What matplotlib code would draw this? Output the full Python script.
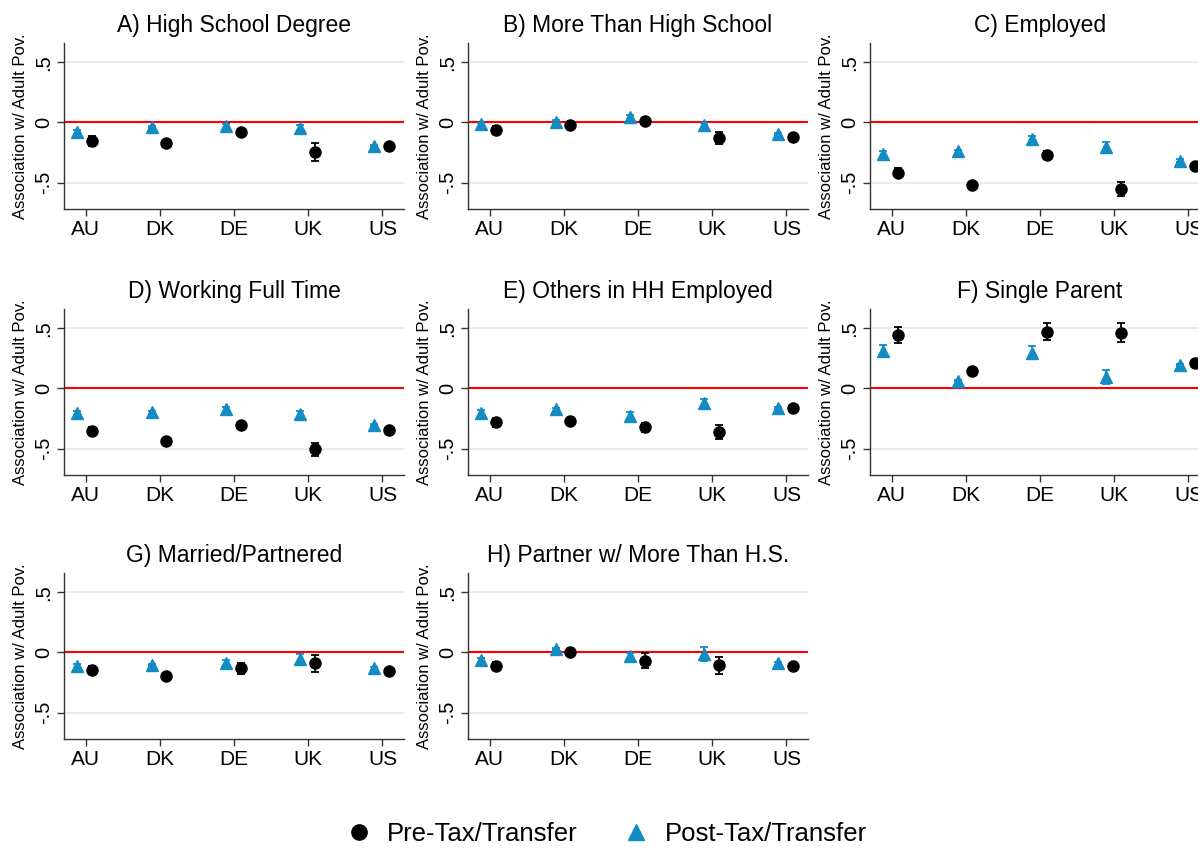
import numpy as np
import matplotlib
matplotlib.use('Agg')
import matplotlib.pyplot as plt

plt.rcParams['font.family'] = ['Liberation Sans', 'DejaVu Sans']

countries = ['AU', 'DK', 'DE', 'UK', 'US']
titles = ['A) High School Degree', 'B) More Than High School', 'C) Employed',
          'D) Working Full Time', 'E) Others in HH Employed', 'F) Single Parent',
          'G) Married/Partnered', 'H) Partner w/ More Than H.S.']

# pre-tax/transfer (circles) estimates and half-width of CI
pre = [[-0.153, -0.175, -0.083, -0.244, -0.197],
       [-0.064, -0.025, 0.008, -0.128, -0.122],
       [-0.417, -0.522, -0.267, -0.556, -0.364],
       [-0.353, -0.439, -0.306, -0.508, -0.350],
       [-0.283, -0.275, -0.325, -0.361, -0.167],
       [0.444, 0.147, 0.472, 0.464, 0.208],
       [-0.147, -0.200, -0.133, -0.089, -0.158],
       [-0.111, 0.003, -0.069, -0.106, -0.111]]
pre_err = [[0.040, 0.012, 0.030, 0.075, 0.012],
           [0.030, 0.010, 0.030, 0.050, 0.012],
           [0.035, 0.015, 0.030, 0.060, 0.015],
           [0.030, 0.012, 0.030, 0.050, 0.012],
           [0.040, 0.012, 0.035, 0.060, 0.012],
           [0.070, 0.015, 0.070, 0.080, 0.015],
           [0.035, 0.012, 0.045, 0.070, 0.012],
           [0.035, 0.012, 0.060, 0.070, 0.012]]

# post-tax/transfer (triangles)
post = [[-0.083, -0.036, -0.030, -0.050, -0.197],
        [-0.017, 0.006, 0.042, -0.022, -0.097],
        [-0.264, -0.239, -0.142, -0.203, -0.319],
        [-0.203, -0.200, -0.175, -0.217, -0.306],
        [-0.208, -0.175, -0.228, -0.125, -0.161],
        [0.311, 0.061, 0.297, 0.097, 0.194],
        [-0.117, -0.106, -0.092, -0.056, -0.133],
        [-0.064, 0.028, -0.033, -0.014, -0.092]]
post_err = [[0.020, 0.010, 0.020, 0.030, 0.010],
            [0.015, 0.010, 0.020, 0.020, 0.010],
            [0.025, 0.012, 0.025, 0.040, 0.012],
            [0.015, 0.010, 0.020, 0.030, 0.010],
            [0.030, 0.010, 0.030, 0.040, 0.010],
            [0.050, 0.012, 0.055, 0.060, 0.012],
            [0.020, 0.010, 0.025, 0.040, 0.010],
            [0.015, 0.010, 0.030, 0.060, 0.010]]

BLUE = '#128cc3'
W, H = 1198, 850
fig = plt.figure(figsize=(W / 100, H / 100), dpi=100)

lefts = [64, 468, 870]
tops = [43, 309, 573]
aw, ah = 340, 166

x = np.arange(1, 6)
for i, title in enumerate(titles):
    r, c = divmod(i, 3)
    ax = fig.add_axes([lefts[c] / W, 1 - (tops[r] + ah) / H, aw / W, ah / H])
    ax.set_xlim(0.71, 5.29)
    ax.set_ylim(-0.72, 0.66)
    for g in [-0.5, 0.5]:
        ax.axhline(g, color='#e6eef0', lw=1.5, zorder=0)
    ax.axhline(0, color='#ff0000', lw=1.5, zorder=1)
    ax.errorbar(x - 0.11, post[i], yerr=post_err[i], fmt='^', color=BLUE,
                ms=9, capsize=3, elinewidth=1.3, capthick=1.3, zorder=3)
    ax.errorbar(x + 0.09, pre[i], yerr=pre_err[i], fmt='o', color='black',
                ms=8, capsize=3, elinewidth=1.3, capthick=1.3, zorder=3)
    ax.set_xticks(x)
    ax.set_xticklabels(countries, fontsize=15)
    ax.set_yticks([-0.5, 0, 0.5])
    ax.set_yticklabels(['-.5', '0', '.5'], fontsize=14.5, rotation=90, va='center')
    ax.tick_params(length=5, width=1, color='#333333', pad=3)
    for s in ['top', 'right']:
        ax.spines[s].set_visible(False)
    for s in ['left', 'bottom']:
        ax.spines[s].set_color('#333333')
        ax.spines[s].set_linewidth(1)
    ax.set_ylabel('Association w/ Adult Pov.', fontsize=12, labelpad=4)
    ax.set_title(title, fontsize=16.5, pad=8)

h1 = plt.Line2D([], [], marker='o', color='black', ls='', ms=11)
h2 = plt.Line2D([], [], marker='^', color=BLUE, ls='', ms=12)
fig.legend([h1, h2], ['Pre-Tax/Transfer', 'Post-Tax/Transfer'], loc='lower center',
           bbox_to_anchor=(0.505, -0.022), ncol=2, frameon=False, fontsize=18.5,
           handletextpad=0.5, columnspacing=1.7, handlelength=1.2)

fig.savefig('out.png', dpi=100)
